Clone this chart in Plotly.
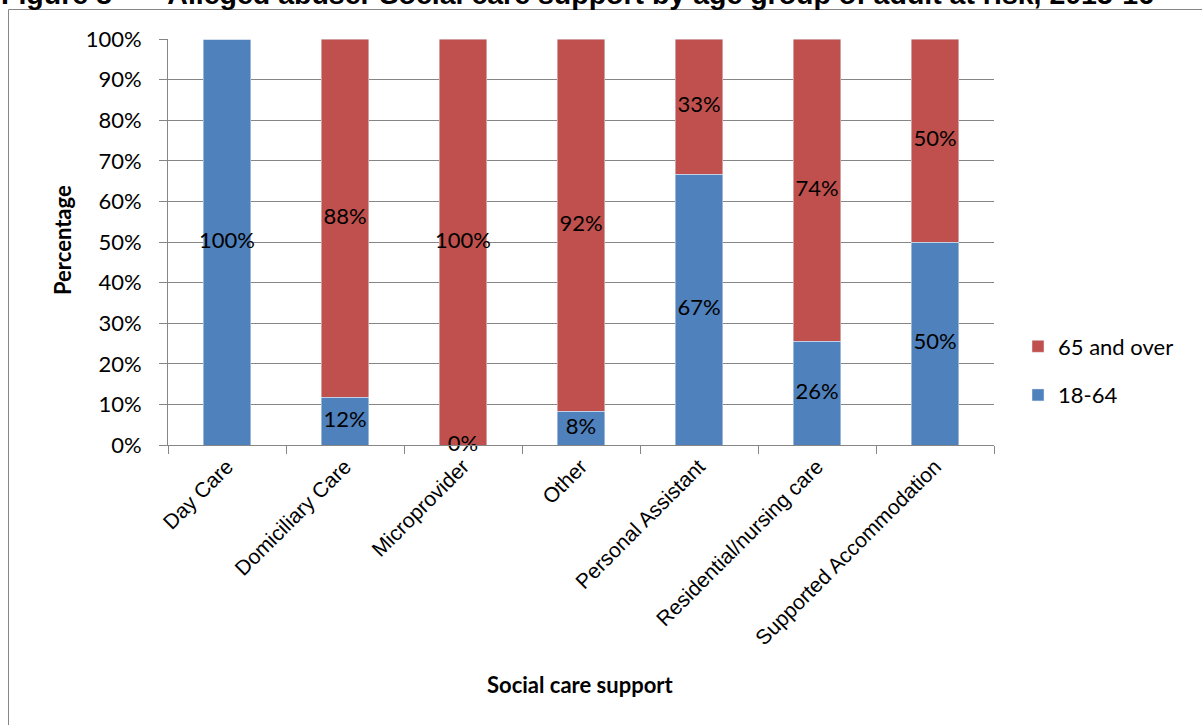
import numpy as np
import plotly.graph_objects as go

categories = ["Day Care", "Domiciliary Care", "Microprovider", "Other",
              "Personal Assistant", "Residential/nursing care", "Supported Accommodation"]
age_18_64 = [100, 11.8, 0, 8.3, 66.7, 25.6, 50]
age_65_over = [None, 88.2, 100, 91.7, 33.3, 74.4, 50]
y_ticks = [0, 10, 20, 30, 40, 50, 60, 70, 80, 90, 100]
title_text = ("Figure 8 \u2013\u00a0\u00a0\u00a0\u00a0Alleged abuser Social care support "
              "by age group of adult at risk, 2015-16")

BLUE = "#4F81BD"
RED = "#C0504D"
GRID = "#868686"
CAL = "Lato, Noto Sans, sans-serif"
ARIAL = "Liberation Sans, Arial, sans-serif"

# plot area in pixels
L, R, T, B = 168, 994, 39, 445
PW, PH = R - L, B - T


def px(x):
    return (x - L) / PW


def py(y):
    return (B - y) / PH


young = np.array(age_18_64, dtype=float)
old = np.array([np.nan if v is None else v for v in age_65_over], dtype=float)

fig = go.Figure()
fig.add_trace(go.Bar(x=categories, y=young, name="18-64", marker=dict(color=BLUE),
                     legendgroup="a", legendrank=2))
fig.add_trace(go.Bar(x=categories, y=np.nan_to_num(old), name="65 and over",
                     marker=dict(color=RED), legendgroup="b", legendrank=1))

# data labels
young_txt = [f"{v:.0f}%" for v in young]
old_txt = ["" if np.isnan(v) else f"{v:.0f}%" for v in old]
fig.add_trace(go.Scatter(x=categories, y=young / 2, text=young_txt, mode="text",
                         textfont=dict(family=CAL, size=22, color="black"),
                         showlegend=False, cliponaxis=False, hoverinfo="skip"))
fig.add_trace(go.Scatter(x=categories, y=young + np.nan_to_num(old) / 2, text=old_txt,
                         mode="text", textfont=dict(family=CAL, size=22, color="black"),
                         showlegend=False, cliponaxis=False, hoverinfo="skip"))

fig.update_layout(
    width=1202, height=725,
    barmode="stack", bargap=0.6,
    plot_bgcolor="white", paper_bgcolor="white",
    margin=dict(l=L, r=1202 - R, t=T, b=725 - B),
    showlegend=True,
    legend=dict(x=px(1018), xanchor="left", y=py(371), yanchor="middle",
                traceorder="grouped", tracegroupgap=17,
                font=dict(family=CAL, size=22, color="black"),
                itemwidth=30, bgcolor="rgba(0,0,0,0)"),
    xaxis=dict(tickfont=dict(family=ARIAL, size=21, color="black"),
               tickangle=-45, showline=True, linecolor=GRID, linewidth=1,
               ticks="outside", ticklen=8, tickcolor=GRID, tickson="boundaries",
               showgrid=False),
    yaxis=dict(range=[0, 100], tickvals=y_ticks, ticktext=[f"{v}%" for v in y_ticks],
               tickfont=dict(family=CAL, size=22, color="black"),
               showline=True, linecolor=GRID, linewidth=1,
               ticks="outside", ticklen=8, tickcolor=GRID,
               showgrid=True, gridcolor=GRID, gridwidth=1, zeroline=False,
               ticklabelstandoff=13),
    annotations=[
        dict(text="<b>Percentage</b>", xref="paper", yref="paper",
             x=px(62), xanchor="center", y=py(240), yanchor="middle",
             textangle=-90, showarrow=False,
             font=dict(family=CAL, size=22, color="black")),
        dict(text="<b>Social care support</b>", xref="paper", yref="paper",
             x=px(580), xanchor="center", y=py(684), yanchor="middle", showarrow=False,
             font=dict(family=CAL, size=22, color="black")),
        dict(text="<b>" + title_text + "</b>", xref="paper", yref="paper",
             x=px(1156), xanchor="right", y=py(12), yanchor="bottom",
             showarrow=False, font=dict(family=ARIAL, size=28.5, color="black")),
    ],
    shapes=[dict(type="rect", xref="paper", yref="paper",
                 x0=px(8.5), x1=1.5, y0=-1.5, y1=py(9.5),
                 line=dict(color=GRID, width=1), fillcolor="rgba(0,0,0,0)", layer="below")],
)

fig.write_html("out.html", config={"displayModeBar": False},
               post_script="document.body.style.margin='0';document.body.style.overflow='hidden';")
